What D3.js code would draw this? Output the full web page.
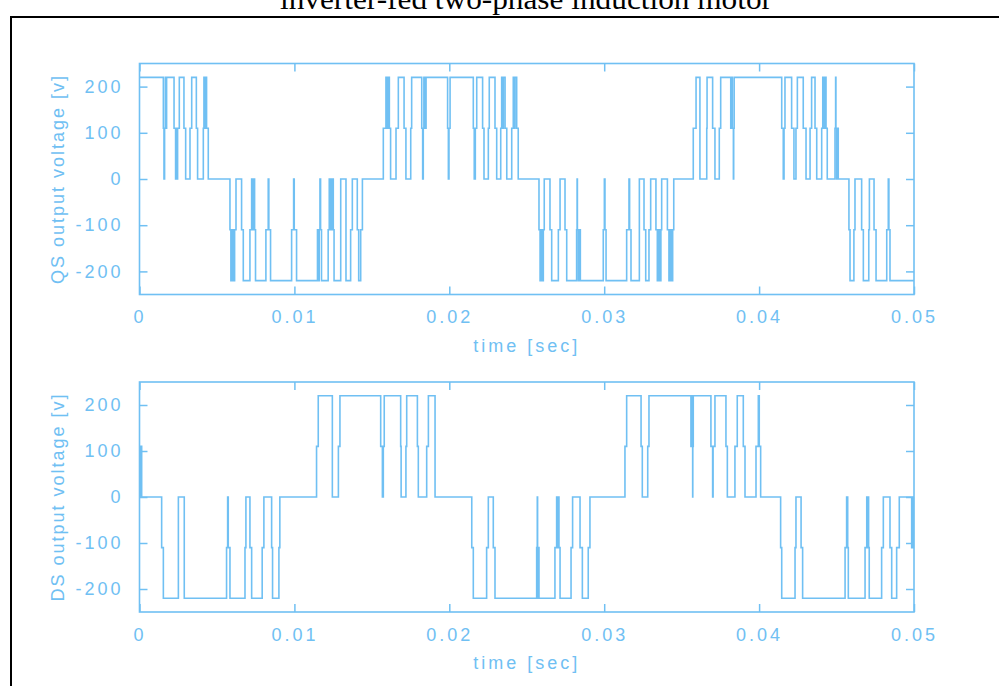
<!DOCTYPE html>
<html>
<head>
<meta charset="utf-8">
<script src="https://cdn.jsdelivr.net/npm/d3@7.9.0/dist/d3.min.js"></script>
<style>
  body { margin: 0; background: #fff; }
  svg text { font-family: "Liberation Sans", Arial, sans-serif; }
</style>
</head>
<body>
<svg id="chart" width="999" height="686"></svg>
<script>
const title = 'inverter-fed two-phase induction motor';
const xTicks = [0, 0.01, 0.02, 0.03, 0.04, 0.05];
const yTicks = [-200, -100, 0, 100, 200];
const xLabel = 'time [sec]';
const qsLabel = 'QS output voltage [v]';
const dsLabel = 'DS output voltage [v]';

// [time (sec), voltage] : the voltage holds until the next switching instant
const qsSteps = [
  [0, 220],
  [0.00154, 110], [0.00158, 0], [0.00162, 110], [0.00167, 220], [0.00171, 110], [0.00175, 220],
  [0.00223, 110], [0.00233, 0], [0.00238, 110], [0.00242, 0], [0.00246, 110], [0.00257, 220],
  [0.00287, 110], [0.00298, 0], [0.00326, 110], [0.00337, 220], [0.00367, 110], [0.00375, 0],
  [0.00412, 110], [0.00416, 220], [0.00425, 110], [0.00429, 220], [0.00433, 110], [0.00444, 0],
  [0.00584, -110], [0.00590, -220], [0.00599, -110], [0.00605, -220], [0.00614, -110], [0.00623, 0],
  [0.00659, -110], [0.00670, -220], [0.00713, -110], [0.00724, 0], [0.00730, -110], [0.00737, 0], [0.00743, -110], [0.00749, -220],
  [0.00816, -110], [0.00831, 0], [0.00835, -110], [0.00846, -220],
  [0.00982, -110], [0.00995, 0], [0.00999, -110], [0.01014, -220],
  [0.01149, -110], [0.01156, -220], [0.01160, -110], [0.01165, 0], [0.01169, -110], [0.01175, -220],
  [0.01218, -110], [0.01225, 0], [0.01230, -110], [0.01236, 0], [0.01242, -110], [0.01247, 0], [0.01251, -110], [0.01256, -220],
  [0.01299, 0], [0.01333, -220], [0.01363, -110], [0.01374, 0], [0.01406, -110], [0.01415, -220], [0.01428, -110], [0.01439, 0],
  [0.01574, 110], [0.01591, 220], [0.01597, 110], [0.01603, 220], [0.01613, 110], [0.01621, 0],
  [0.01656, 110], [0.01671, 220], [0.01708, 110], [0.01720, 0], [0.01751, 110], [0.01757, 220],
  [0.01822, 110], [0.01828, 0], [0.01832, 110], [0.01836, 220], [0.01841, 110], [0.01850, 220],
  [0.01989, 110], [0.01994, 0], [0.01998, 110], [0.02005, 220],
  [0.02155, 110], [0.02161, 0], [0.02168, 110], [0.02177, 220], [0.02215, 110], [0.02224, 0],
  [0.02252, 110], [0.02258, 220], [0.02295, 110], [0.02306, 0], [0.02332, 110], [0.02338, 220], [0.02344, 110], [0.02349, 220], [0.02360, 110], [0.02371, 0],
  [0.02403, 110], [0.02413, 220], [0.02419, 110], [0.02424, 220], [0.02435, 110], [0.02445, 0],
  [0.02579, -110], [0.02586, -220], [0.02592, -110], [0.02599, -220], [0.02607, -110], [0.02613, 0],
  [0.02650, -110], [0.02661, -220], [0.02704, -110], [0.02715, 0], [0.02747, -110], [0.02758, -220],
  [0.02822, -110], [0.02825, 0], [0.02827, -110], [0.02833, -220], [0.02839, -110], [0.02846, -220],
  [0.02994, -110], [0.03001, 0], [0.03005, -110], [0.03012, -220],
  [0.03145, -110], [0.03160, 0], [0.03164, -110], [0.03173, -220],
  [0.03227, 0], [0.03257, -110], [0.03268, -220], [0.03289, -110], [0.03300, 0],
  [0.03334, -110], [0.03343, -220], [0.03352, -110], [0.03360, -220], [0.03366, -110], [0.03371, 0],
  [0.03408, -110], [0.03418, -220], [0.03427, -110], [0.03436, -220], [0.03442, -110], [0.03449, 0],
  [0.03575, 110], [0.03593, 220], [0.03618, 0], [0.03662, 110], [0.03664, 220], [0.03700, 110], [0.03715, 0],
  [0.03743, 110], [0.03752, 220], [0.03817, 110], [0.03822, 220], [0.03827, 110], [0.03834, 0], [0.03836, 110], [0.03839, 220],
  [0.04146, 110], [0.04156, 0], [0.04161, 110], [0.04167, 220], [0.04210, 110], [0.04225, 0],
  [0.04238, 110], [0.04247, 220], [0.04285, 110], [0.04303, 0], [0.04329, 110], [0.04339, 220],
  [0.04361, 110], [0.04372, 0], [0.04404, 110], [0.04411, 220], [0.04417, 110], [0.04423, 220], [0.04432, 110], [0.04440, 0],
  [0.04490, 110], [0.04494, 220], [0.04496, 110], [0.04501, 0], [0.04505, 110], [0.04511, 0],
  [0.04580, -110], [0.04587, -220], [0.04612, -110], [0.04619, 0], [0.04662, -110], [0.04673, -220],
  [0.04708, -110], [0.04712, 0], [0.04742, -110], [0.04755, -220], [0.04824, -110], [0.04834, 0], [0.04838, -110], [0.04845, -220],
  [0.05, -220]
];

const dsSteps = [
  [0, 110], [0.00005, 0], [0.00009, 110], [0.00014, 0],
  [0.00143, -110], [0.00154, -220], [0.00251, 0], [0.00289, -220],
  [0.00562, -110], [0.00569, 0], [0.00573, -110], [0.00584, -220],
  [0.00681, -110], [0.00687, 0], [0.00713, -110], [0.00724, -220],
  [0.00792, -110], [0.00803, 0], [0.00853, -110], [0.00859, -220],
  [0.00900, -110], [0.00906, 0],
  [0.01143, 110], [0.01154, 220], [0.01245, 0], [0.01284, 110], [0.01294, 220],
  [0.01557, 110], [0.01568, 0], [0.01574, 110], [0.01580, 220],
  [0.01686, 110], [0.01689, 0], [0.01720, 110], [0.01725, 220],
  [0.01794, 110], [0.01800, 0], [0.01854, 110], [0.01865, 220], [0.01908, 0],
  [0.02145, -110], [0.02155, -220], [0.02241, -110], [0.02252, 0], [0.02284, -110], [0.02295, -220],
  [0.02564, -110], [0.02568, 0], [0.02570, -110], [0.02573, -220], [0.02576, -110], [0.02579, -220],
  [0.02682, -110], [0.02693, 0], [0.02698, -110], [0.02702, 0], [0.02708, -110], [0.02715, -220],
  [0.02786, -110], [0.02796, 0], [0.02844, -110], [0.02859, -220], [0.02897, -110], [0.02908, 0],
  [0.03134, 110], [0.03145, 220], [0.03238, 110], [0.03246, 0], [0.03281, 110], [0.03289, 220],
  [0.03560, 110], [0.03563, 220], [0.03566, 110], [0.03571, 0], [0.03572, 110], [0.03575, 220],
  [0.03689, 110], [0.03700, 0], [0.03703, 110], [0.03715, 220],
  [0.03786, 110], [0.03795, 0], [0.03844, 110], [0.03859, 220], [0.03898, 110], [0.03909, 0],
  [0.03980, 110], [0.03995, 220], [0.04001, 110], [0.04010, 0],
  [0.04139, -110], [0.04146, -220], [0.04232, -110], [0.04238, 0], [0.04271, -110], [0.04281, -220],
  [0.04555, -110], [0.04565, 0], [0.04572, -110], [0.04576, -220],
  [0.04684, -110], [0.04695, 0], [0.04699, -110], [0.04703, 0], [0.04707, -110], [0.04711, -220],
  [0.04791, -110], [0.04802, 0], [0.04845, -110], [0.04856, -220], [0.04888, -110], [0.04905, 0],
  [0.04985, -110], [0.04988, 0], [0.04992, -110], [0.04996, 0],
  [0.05, 0]
];

const blue = '#70c0f3';
const svg = d3.select('#chart');

const x = d3.scaleLinear().domain([0, 0.05]).range([139.5, 914]);

// black figure border (only top and left show in the window)
svg.append('path')
   .attr('d', 'M11,686V17H999')
   .attr('fill', 'none')
   .attr('stroke', '#000')
   .attr('stroke-width', 2);

// the title sits mostly above the window, as in the original
svg.append('text')
   .attr('x', 526)
   .attr('y', 9)
   .attr('text-anchor', 'middle')
   .attr('textLength', 492)
   .attr('lengthAdjust', 'spacingAndGlyphs')
   .style('font-family', '"Liberation Serif", "Times New Roman", serif')
   .style('font-size', '29px')
   .attr('fill', '#000')
   .text(title);

function drawPanel(steps, yLabel, top, bottom) {
  let y = d3.scaleLinear().domain([-250, 250]).range([bottom, top]);
  let g = svg.append('g');
  let fmtX = (d) => String(+d.toFixed(2));
  let fmtY = (d) => String(d);

  let axes = [
    [d3.axisBottom(x).tickValues(xTicks).tickFormat(fmtX), `translate(0,${bottom})`, true],
    [d3.axisTop(x).tickValues(xTicks).tickFormat(''), `translate(0,${top})`, false],
    [d3.axisLeft(y).tickValues(yTicks).tickFormat(fmtY), `translate(${x.range()[0]},0)`, true],
    [d3.axisRight(y).tickValues(yTicks).tickFormat(''), `translate(${x.range()[1]},0)`, false],
  ];
  axes.forEach(([axis, tr, labelled]) => {
    let a = g.append('g')
      .attr('transform', tr)
      .call(axis.tickSizeInner(-8).tickSizeOuter(0).tickPadding(labelled ? 16 : 0));
    a.select('.domain').remove();
    a.selectAll('line').attr('stroke', blue).attr('stroke-width', 1.5);
    a.selectAll('text')
      .attr('fill', blue)
      .style('font-size', '18px')
      .style('letter-spacing', '3px')
      .style('font-family', '"Liberation Sans", Arial, sans-serif');
  });

  g.append('rect')
   .attr('x', x.range()[0])
   .attr('y', top)
   .attr('width', x.range()[1] - x.range()[0])
   .attr('height', bottom - top)
   .attr('fill', 'none')
   .attr('stroke', blue)
   .attr('stroke-width', 1.6);

  let line = d3.line()
    .x((d) => x(d[0]))
    .y((d) => y(d[1]))
    .curve(d3.curveStepAfter);

  g.append('path')
   .datum(steps)
   .attr('d', line)
   .attr('fill', 'none')
   .attr('stroke', blue)
   .attr('stroke-width', 1.6);

  g.append('text')
   .attr('x', (x.range()[0] + x.range()[1]) / 2)
   .attr('y', bottom + 57)
   .attr('text-anchor', 'middle')
   .attr('fill', blue)
   .style('font-size', '18px')
   .style('letter-spacing', '3px')
   .text(xLabel);

  g.append('text')
   .attr('transform', `translate(64,${(top + bottom) / 2}) rotate(-90)`)
   .attr('text-anchor', 'middle')
   .attr('fill', blue)
   .style('font-size', '18px')
   .style('letter-spacing', '2px')
   .text(yLabel);
}

drawPanel(qsSteps, qsLabel, 63.5, 294.5);
drawPanel(dsSteps, dsLabel, 382, 612);
</script>
</body>
</html>
